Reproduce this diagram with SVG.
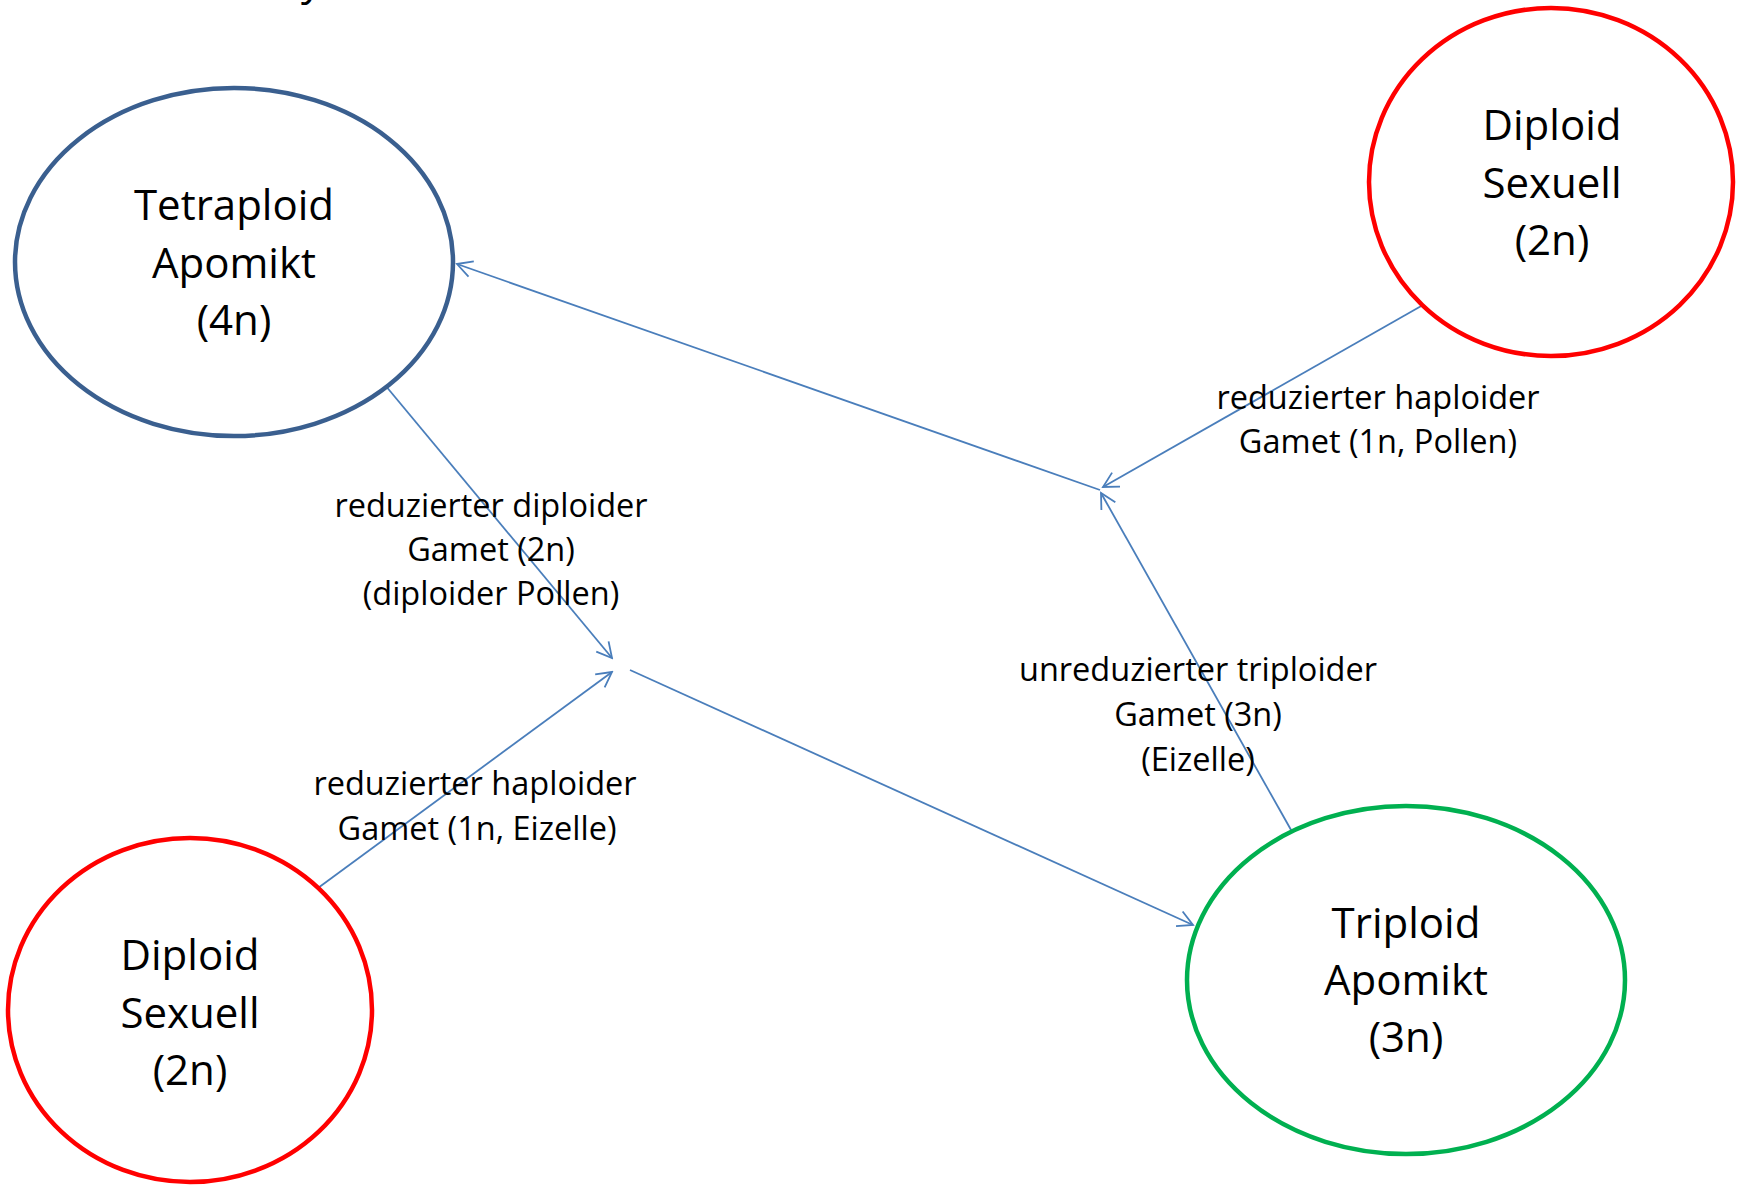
<svg xmlns="http://www.w3.org/2000/svg" width="1744" height="1186" viewBox="0 0 1744 1186">
<style>
.node{fill:#FFFFFF;stroke-width:4.5}
.blue{stroke:#3A5F8F}
.red{stroke:#FF0000}
.green{stroke:#00B050}
.nt{font-family:"Open Sans","Noto Sans",sans-serif;font-size:42px;fill:#000000;text-anchor:middle}
.ft{font-family:"Open Sans","Noto Sans",sans-serif;font-size:42px;fill:#000000}
.et{font-family:"Open Sans","Noto Sans",sans-serif;font-size:32.5px;fill:#000000;text-anchor:middle}
.conn{stroke:#4A7EBB;stroke-width:1.8;fill:none}
</style>
<defs>
<marker id="arr" markerUnits="userSpaceOnUse" markerWidth="20" markerHeight="20" viewBox="0 0 20 20" refX="18" refY="10" orient="auto">
<path d="M3,2 L18,10 L3,18" fill="none" stroke="#4A7EBB" stroke-width="1.8"/>
</marker>
</defs>
<rect x="0" y="0" width="1744" height="1186" fill="#FFFFFF"/>
<g id="top-fragments">
<text class="ft" x="301" y="-5">y</text>
<text class="ft" x="1152" y="-5">,</text>
</g>
<g id="connectors">
<line class="conn" x1="385" y1="385" x2="612" y2="658" marker-end="url(#arr)"/>
<line class="conn" x1="318" y1="888" x2="612" y2="672" marker-end="url(#arr)"/>
<line class="conn" x1="630" y1="670" x2="1193" y2="925" marker-end="url(#arr)"/>
<line class="conn" x1="1295" y1="837" x2="1101" y2="493" marker-end="url(#arr)"/>
<line class="conn" x1="1423" y1="305" x2="1103" y2="487" marker-end="url(#arr)"/>
<line class="conn" x1="1100" y1="490" x2="457" y2="264" marker-end="url(#arr)"/>
</g>
<g id="node-tetraploid">
<ellipse class="node blue" cx="234" cy="262" rx="219" ry="174"/>
<text class="nt" x="234" y="220">Tetraploid</text>
<text class="nt" x="234" y="278">Apomikt</text>
<text class="nt" x="234" y="335">(4n)</text>
</g>
<g id="node-diploid-top">
<ellipse class="node red" cx="1551" cy="182" rx="182" ry="174"/>
<text class="nt" x="1552" y="140">Diploid</text>
<text class="nt" x="1552" y="198">Sexuell</text>
<text class="nt" x="1552" y="255">(2n)</text>
</g>
<g id="node-diploid-bottom">
<ellipse class="node red" cx="190" cy="1010" rx="182" ry="172"/>
<text class="nt" x="190" y="970">Diploid</text>
<text class="nt" x="190" y="1028">Sexuell</text>
<text class="nt" x="190" y="1085">(2n)</text>
</g>
<g id="node-triploid">
<ellipse class="node green" cx="1406" cy="980" rx="219" ry="174"/>
<text class="nt" x="1406" y="938">Triploid</text>
<text class="nt" x="1406" y="995">Apomikt</text>
<text class="nt" x="1406" y="1052">(3n)</text>
</g>
<g id="labels">
<text class="et" x="491" y="517">reduzierter diploider</text>
<text class="et" x="491" y="561">Gamet (2n)</text>
<text class="et" x="491" y="605">(diploider Pollen)</text>
<text class="et" x="1378" y="409">reduzierter haploider</text>
<text class="et" x="1378" y="453">Gamet (1n, Pollen)</text>
<text class="et" x="1198" y="681">unreduzierter triploider</text>
<text class="et" x="1198" y="726">Gamet (3n)</text>
<text class="et" x="1198" y="771">(Eizelle)</text>
<text class="et" x="475" y="795">reduzierter haploider</text>
<text class="et" x="477" y="840">Gamet (1n, Eizelle)</text>
</g>
</svg>
